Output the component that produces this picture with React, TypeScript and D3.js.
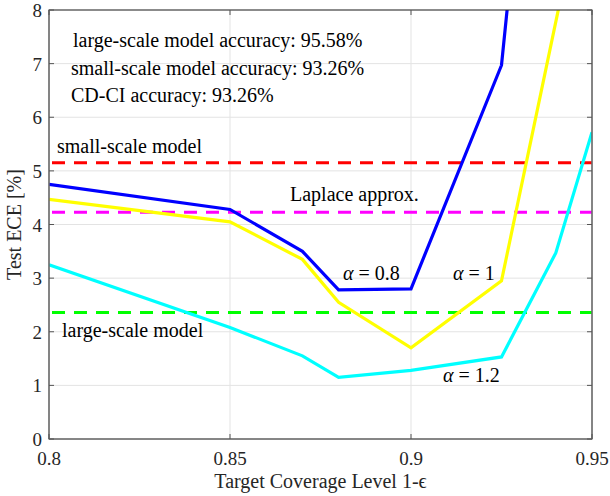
import React from "react";
import * as d3 from "d3";

const xs = [0.8, 0.85, 0.87, 0.88, 0.9, 0.925, 0.93, 0.94, 0.95];
const alpha08 = [4.75, 4.28, 3.5, 2.78, 2.8, 6.97, 10.3, null, null];
const alpha1 = [4.47, 4.05, 3.35, 2.55, 1.7, 2.95, null, null, 11.0];
const alpha12 = [3.25, 2.08, 1.55, 1.15, 1.28, 1.53, null, 3.47, 5.72];
const refSmall = 5.15;
const refLaplace = 4.23;
const refLarge = 2.36;
const xTicks = [0.8, 0.85, 0.9, 0.95];
const yTicks = [0, 1, 2, 3, 4, 5, 6, 7, 8];

const W = 610, H = 496;
const L = 49, R = 592, T = 10, B = 439;
const FONT = "Liberation Serif, Times New Roman, Times, serif";

export default function App() {
  const x = d3.scaleLinear().domain([0.8, 0.95]).range([L, R]);
  const y = d3.scaleLinear().domain([0, 8]).range([B, T]);
  const mk = (vals: (number | null)[]) => {
    const pts = xs.map((v, i) => [v, vals[i]] as [number, number | null]).filter(p => p[1] !== null) as [number, number][];
    return d3.line<[number, number]>().x(d => x(d[0])).y(d => y(d[1]))(pts) || "";
  };
  const series = [
    { vals: alpha12, color: "#00ffff" },
    { vals: alpha1, color: "#ffff00" },
    { vals: alpha08, color: "#0000ff" },
  ];
  const refs = [
    { v: refSmall, color: "#ff0000" },
    { v: refLaplace, color: "#ff00ff" },
    { v: refLarge, color: "#00ff00" },
  ];
  const fs = 19;
  const fa = 20;
  return (
    <svg width={W} height={H} style={{ position: "absolute", left: 0, top: 0, background: "#fff", fontFamily: FONT }}>
      <defs>
        <clipPath id="clip"><rect x={L} y={T} width={R - L} height={B - T} /></clipPath>
      </defs>
      <rect x={0} y={0} width={W} height={H} fill="#fff" />
      {xTicks.map(t => <line key={"gx" + t} x1={x(t)} x2={x(t)} y1={T} y2={B} stroke="#e3e3e3" strokeWidth={1} />)}
      {yTicks.map(t => <line key={"gy" + t} x1={L} x2={R} y1={y(t)} y2={y(t)} stroke="#e3e3e3" strokeWidth={1} />)}
      <g clipPath="url(#clip)">
        {refs.map((r, i) => <line key={"r" + i} x1={L + 3} x2={R} y1={y(r.v)} y2={y(r.v)} stroke={r.color} strokeWidth={3} strokeDasharray="13,9" />)}
        {series.map((s, i) => <path key={"s" + i} d={mk(s.vals)} fill="none" stroke={s.color} strokeWidth={3.2} strokeLinejoin="miter" />)}
      </g>
      <rect x={L} y={T} width={R - L} height={B - T} fill="none" stroke="#262626" strokeWidth={1} />
      <line x1={L} x2={L} y1={T} y2={B} stroke="#808080" strokeWidth={1.2} />
      <line x1={L} x2={R} y1={B} y2={B} stroke="#808080" strokeWidth={1.2} />
      <line x1={R} x2={R} y1={T} y2={B} stroke="#808080" strokeWidth={1.2} />
      {xTicks.map(t => (
        <g key={"xt" + t}>
          <line x1={x(t)} x2={x(t)} y1={B} y2={B - 5} stroke="#555" />
          <line x1={x(t)} x2={x(t)} y1={T} y2={T + 5} stroke="#555" />
          <text x={x(t)} y={B + 26} textAnchor="middle" fontSize={fs} fill="#262626">{String(t)}</text>
        </g>
      ))}
      {yTicks.map(t => (
        <g key={"yt" + t}>
          <line x1={L} x2={L + 5} y1={y(t)} y2={y(t)} stroke="#555" />
          <line x1={R} x2={R - 5} y1={y(t)} y2={y(t)} stroke="#555" />
          <text x={L - 7} y={y(t) + 7} textAnchor="end" fontSize={fs} fill="#262626">{t}</text>
        </g>
      ))}
      <text x={(L + R) / 2} y={488} textAnchor="middle" fontSize={fa} fill="#262626">Target Coverage Level 1-ϵ</text>
      <text transform={`translate(21,${(T + B) / 2}) rotate(-90)`} textAnchor="middle" fontSize={fa} fill="#262626">Test ECE [%]</text>
      <text x={73} y={47} fontSize={fa} fill="#000">large-scale model accuracy: 95.58%</text>
      <text x={71} y={75} fontSize={fa} fill="#000">small-scale model accuracy: 93.26%</text>
      <text x={71} y={102} fontSize={fa} fill="#000">CD-CI accuracy: 93.26%</text>
      <text x={57} y={153} fontSize={fa} fill="#000">small-scale model</text>
      <text x={290} y={201} fontSize={fa} fill="#000">Laplace approx.</text>
      <text x={62} y={337} fontSize={fa} fill="#000">large-scale model</text>
      <text x={343} y={280} fontSize={fa} fill="#000"><tspan fontStyle="italic">α</tspan> = 0.8</text>
      <text x={453} y={280} fontSize={fa} fill="#000"><tspan fontStyle="italic">α</tspan> = 1</text>
      <text x={443} y={382} fontSize={fa} fill="#000"><tspan fontStyle="italic">α</tspan> = 1.2</text>
    </svg>
  );
}
